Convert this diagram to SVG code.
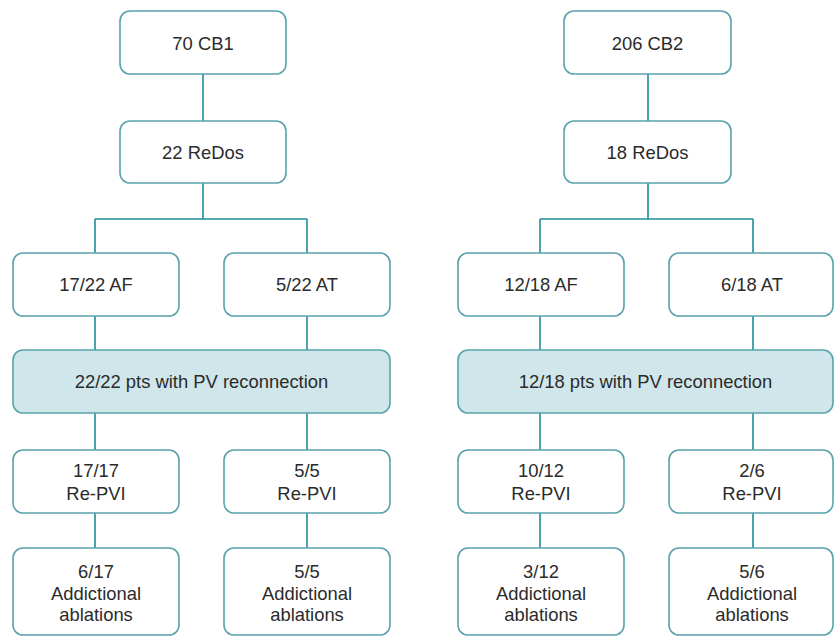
<svg xmlns="http://www.w3.org/2000/svg" width="834" height="636" viewBox="0 0 834 636">
<style>
.box{fill:#ffffff;stroke:#5aa3ac;stroke-width:1.6}
.hl{fill:#cfe6ea;stroke:#5aa3ac;stroke-width:1.6}
.t{font-family:"Liberation Sans",Arial,sans-serif;font-size:18.4px;fill:#2b2b2b;text-anchor:middle;dominant-baseline:central}
.c{fill:none;stroke:#1f8e99;stroke-width:1.6}
</style>
<rect width="834" height="636" fill="#ffffff"/>
<g id="connectors">
<path class="c" d="M203 74V121M203 183V219M95 219H307M95 219V253M307 219V253M95 316V350M307 316V350M95 413V450M307 413V450M95 513V548M307 513V548"/>
<path class="c" d="M648 74V121M648 183V219M540 219H753M540 219V253M753 219V253M540 316V350M753 316V350M540 413V450M753 413V450M540 513V548M753 513V548"/>
</g>
<g id="cb1"><rect class="box" x="120" y="11" width="166" height="63" rx="10"/><text class="t" x="203" y="43">70 CB1</text></g>
<g id="redos1"><rect class="box" x="120" y="121" width="166" height="62" rx="10"/><text class="t" x="203" y="152">22 ReDos</text></g>
<g id="af1"><rect class="box" x="13" y="253" width="166" height="63" rx="10"/><text class="t" x="96" y="284">17/22 AF</text></g>
<g id="at1"><rect class="box" x="224" y="253" width="166" height="63" rx="10"/><text class="t" x="307" y="284">5/22 AT</text></g>
<g id="pv1"><rect class="hl" x="13" y="350" width="377" height="63" rx="10"/><text class="t" x="201.5" y="381">22/22 pts with PV reconnection</text></g>
<g id="repvi1a"><rect class="box" x="13" y="450" width="166" height="63" rx="10"/><text class="t" x="96" y="470">17/17</text><text class="t" x="96" y="493">Re-PVI</text></g>
<g id="repvi1b"><rect class="box" x="224" y="450" width="166" height="63" rx="10"/><text class="t" x="307" y="470">5/5</text><text class="t" x="307" y="493">Re-PVI</text></g>
<g id="abl1a"><rect class="box" x="13" y="548" width="166" height="87" rx="10"/><text class="t" x="96" y="571">6/17</text><text class="t" x="96" y="593">Addictional</text><text class="t" x="96" y="614">ablations</text></g>
<g id="abl1b"><rect class="box" x="224" y="548" width="166" height="87" rx="10"/><text class="t" x="307" y="571">5/5</text><text class="t" x="307" y="593">Addictional</text><text class="t" x="307" y="614">ablations</text></g>
<g id="cb2"><rect class="box" x="564" y="11" width="167" height="63" rx="10"/><text class="t" x="647.5" y="43">206 CB2</text></g>
<g id="redos2"><rect class="box" x="564" y="121" width="167" height="62" rx="10"/><text class="t" x="647.5" y="152">18 ReDos</text></g>
<g id="af2"><rect class="box" x="458" y="253" width="166" height="63" rx="10"/><text class="t" x="541" y="284">12/18 AF</text></g>
<g id="at2"><rect class="box" x="669" y="253" width="164" height="63" rx="10"/><text class="t" x="752" y="284">6/18 AT</text></g>
<g id="pv2"><rect class="hl" x="458" y="350" width="375" height="63" rx="10"/><text class="t" x="645.5" y="381">12/18 pts with PV reconnection</text></g>
<g id="repvi2a"><rect class="box" x="458" y="450" width="166" height="63" rx="10"/><text class="t" x="541" y="470">10/12</text><text class="t" x="541" y="493">Re-PVI</text></g>
<g id="repvi2b"><rect class="box" x="669" y="450" width="164" height="63" rx="10"/><text class="t" x="752" y="470">2/6</text><text class="t" x="752" y="493">Re-PVI</text></g>
<g id="abl2a"><rect class="box" x="458" y="548" width="166" height="87" rx="10"/><text class="t" x="541" y="571">3/12</text><text class="t" x="541" y="593">Addictional</text><text class="t" x="541" y="614">ablations</text></g>
<g id="abl2b"><rect class="box" x="669" y="548" width="164" height="87" rx="10"/><text class="t" x="752" y="571">5/6</text><text class="t" x="752" y="593">Addictional</text><text class="t" x="752" y="614">ablations</text></g>
</svg>
